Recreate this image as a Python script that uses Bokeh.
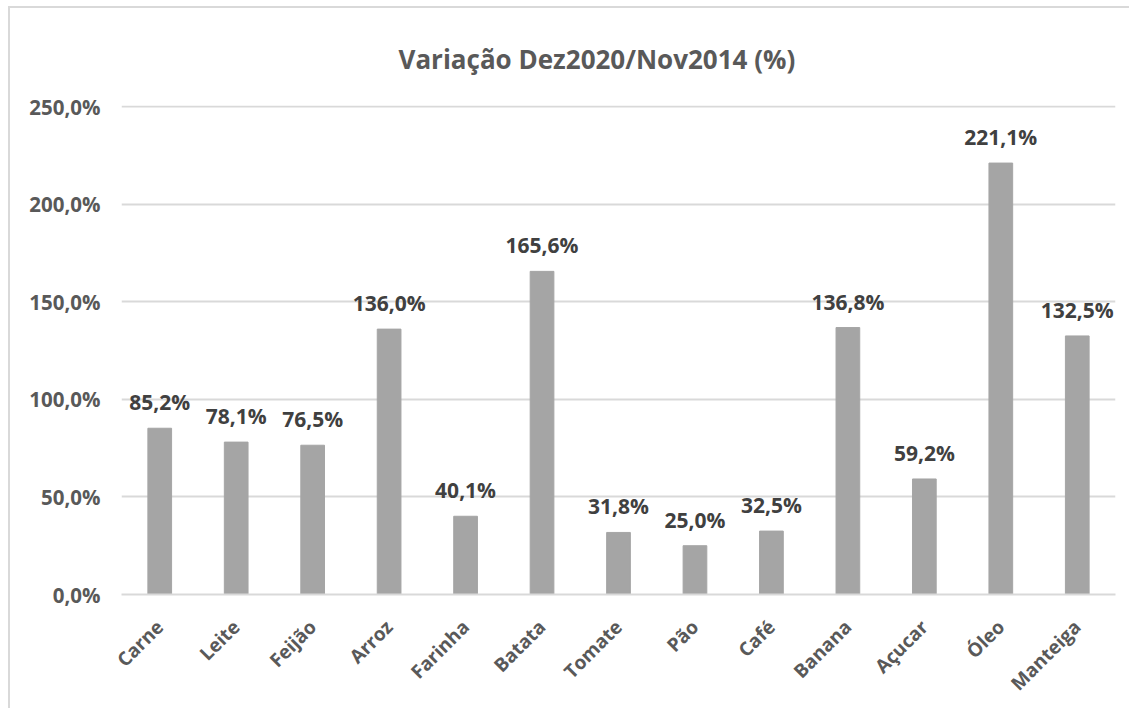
import math
from bokeh.plotting import figure
from bokeh.models import Range1d, FixedTicker, ColumnDataSource
from bokeh.core.properties import value
from bokeh.embed import file_html
from bokeh.resources import INLINE

categories = ["Carne", "Leite", "Feijão", "Arroz", "Farinha", "Batata", "Tomate",
              "Pão", "Café", "Banana", "Açucar", "Óleo", "Manteiga"]
values = [85.2, 78.1, 76.5, 136.0, 40.1, 165.6, 31.8, 25.0, 32.5, 136.8, 59.2, 221.1, 132.5]
y_ticks = [0, 50, 100, 150, 200, 250]
title_text = "Variação Dez2020/Nov2014 (%)"

def fmt(v):
    return f"{v:.1f}".replace(".", ",") + "%"

FONT = "Open Sans"
src = ColumnDataSource(dict(cat=categories, val=values, lab=[fmt(v) for v in values]))

p = figure(x_range=categories, y_range=Range1d(0, 250.6), width=1121, height=702,
           output_backend="svg", toolbar_location=None,
           min_border_left=111, min_border_right=16, min_border_top=97, min_border_bottom=116)
p.styles = {"border-left": "2px solid #D9D9D9", "border-top": "2px solid #D9D9D9",
            "margin-left": "8px", "margin-top": "6px"}

p.title.text = title_text
p.title.align = "left"
p.title.text_font = FONT
p.title.text_font_size = "26px"
p.title.text_font_style = "bold"
p.title.text_color = "#595959"
p.title.offset = 277
p.title.standoff = 58

p.vbar(x="cat", top="val", width=0.31, source=src, fill_color="#A5A5A5", line_color="#A5A5A5")
p.text(x="cat", y="val", text="lab", source=src, y_offset=-12,
       text_align="center", text_baseline="bottom",
       text_font=value(FONT), text_font_style="bold", text_font_size="21px", text_color="#404040")

p.outline_line_color = None
p.xgrid.grid_line_color = None
p.ygrid.ticker = FixedTicker(ticks=y_ticks)
p.ygrid.grid_line_color = "#D9D9D9"
p.ygrid.grid_line_width = 2

p.yaxis.ticker = FixedTicker(ticks=y_ticks)
p.yaxis.major_label_overrides = {t: fmt(t) for t in y_ticks}
p.yaxis.axis_line_color = None
p.yaxis.major_tick_line_color = None
p.yaxis.minor_tick_line_color = None
p.yaxis.major_label_standoff = 15
p.yaxis.major_label_text_font = FONT
p.yaxis.major_label_text_font_style = "bold"
p.yaxis.major_label_text_font_size = "20.5px"
p.yaxis.major_label_text_color = "#595959"

p.xaxis.axis_line_color = "#D9D9D9"
p.xaxis.axis_line_width = 2
p.xaxis.major_tick_line_color = None
p.xaxis.minor_tick_line_color = None
p.xaxis.major_label_orientation = math.pi / 4
p.xaxis.major_label_standoff = 23
p.xaxis.major_label_text_font = FONT
p.xaxis.major_label_text_font_style = "bold"
p.xaxis.major_label_text_font_size = "19px"
p.xaxis.major_label_text_color = "#595959"

open("out.html", "w").write(file_html(p, INLINE))
